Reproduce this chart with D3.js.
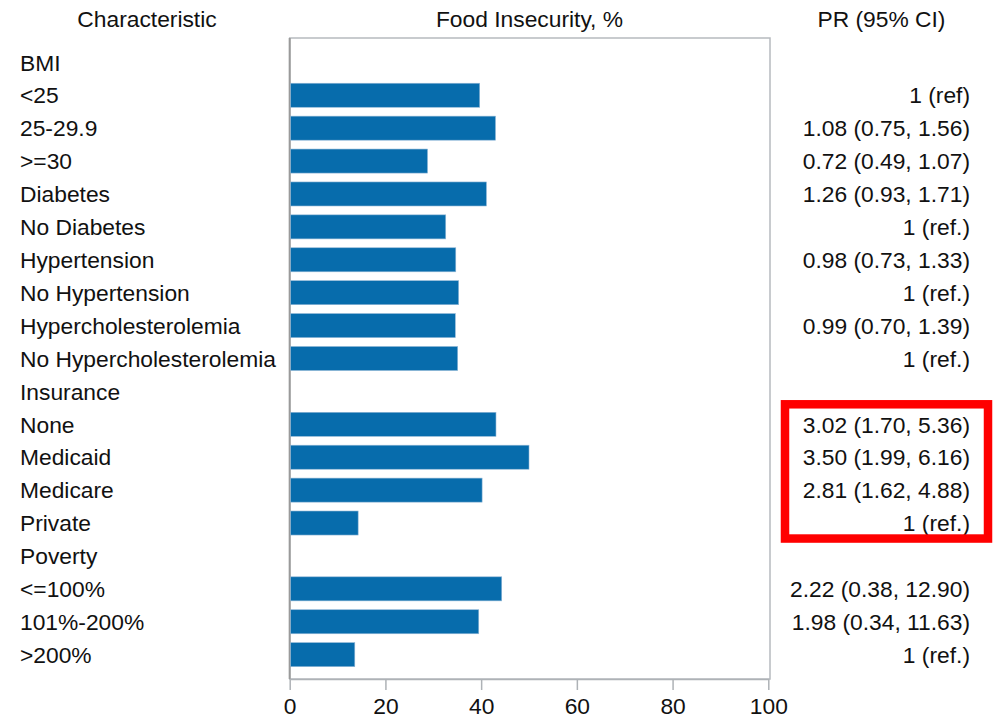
<!DOCTYPE html>
<html>
<head>
<meta charset="utf-8">
<script src="https://cdn.jsdelivr.net/npm/d3@7"></script>
<style>
  html, body { margin: 0; padding: 0; background: #fff; }
  svg text { font-family: "Liberation Sans", Arial, sans-serif; fill: #111; }
</style>
</head>
<body>
<svg id="chart" width="994" height="719"></svg>
<script>
// Row labels (group headers have no bar and no ratio)
const characteristics = [
  "BMI", "<25", "25-29.9", ">=30",
  "Diabetes", "No Diabetes",
  "Hypertension", "No Hypertension",
  "Hypercholesterolemia", "No Hypercholesterolemia",
  "Insurance", "None", "Medicaid", "Medicare", "Private",
  "Poverty", "<=100%", "101%-200%", ">200%"
];
// Food insecurity prevalence, %
const insecurity = [
  null, 39.7, 43.0, 28.8,
  41.1, 32.6,
  34.7, 35.3,
  34.6, 35.1,
  null, 43.1, 50.0, 40.2, 14.3,
  null, 44.3, 39.5, 13.6
];
// Prevalence ratio with 95% confidence interval
const prText = [
  "", "1 (ref)", "1.08 (0.75, 1.56)", "0.72 (0.49, 1.07)",
  "1.26 (0.93, 1.71)", "1 (ref.)",
  "0.98 (0.73, 1.33)", "1 (ref.)",
  "0.99 (0.70, 1.39)", "1 (ref.)",
  "", "3.02 (1.70, 5.36)", "3.50 (1.99, 6.16)", "2.81 (1.62, 4.88)", "1 (ref.)",
  "", "2.22 (0.38, 12.90)", "1.98 (0.34, 11.63)", "1 (ref.)"
];
const xTicks = [0, 20, 40, 60, 80, 100];
// Rows enclosed by the highlight box (insurance types)
const highlightRows = ["None", "Private"];

const svg = d3.select("#chart");
const fontSize = 22.8;

const plot = { left: 289.7, right: 768.3, top: 38, bottom: 679 };

const x = d3.scaleLinear().domain([0, 100]).range([plot.left, plot.right]);
const y = d3.scaleBand()
  .domain(d3.range(characteristics.length))
  .range([plot.top, plot.bottom])
  .paddingInner(0.27)
  .paddingOuter(0.375);

// Column headers
const headers = [
  { text: "Characteristic", x: 147 },
  { text: "Food Insecurity, %", x: (plot.left + plot.right) / 2 + 0.5 },
  { text: "PR (95% CI)", x: 881.5 }
];
svg.selectAll("text.header").data(headers).join("text")
  .attr("class", "header")
  .attr("x", d => d.x).attr("y", 27)
  .attr("text-anchor", "middle")
  .style("font-size", fontSize + "px")
  .text(d => d.text);

// Plot frame
svg.append("rect")
  .attr("x", plot.left).attr("y", plot.top)
  .attr("width", plot.right + 1.7 - plot.left).attr("height", plot.bottom - plot.top)
  .attr("fill", "none").attr("stroke", "#b6babf").attr("stroke-width", 1.5);
svg.append("line")
  .attr("x1", plot.left).attr("x2", plot.left)
  .attr("y1", plot.top).attr("y2", plot.bottom)
  .attr("stroke", "#9a9a9a").attr("stroke-width", 2);

// Bars
const rows = characteristics.map((c, i) => ({ i, label: c, value: insecurity[i], pr: prText[i] }));
svg.append("g").selectAll("rect").data(rows.filter(d => d.value != null)).join("rect")
  .attr("x", x(0) + 1)
  .attr("y", d => y(d.i))
  .attr("width", d => x(d.value) - x(0) - 1)
  .attr("height", y.bandwidth())
  .attr("fill", "#076cac")
  .attr("stroke", "#8fb6d6").attr("stroke-width", 0.6);

// Row labels
svg.append("g").selectAll("text").data(rows).join("text")
  .attr("x", 20)
  .attr("y", d => y(d.i) + y.bandwidth() / 2)
  .attr("dy", "0.36em")
  .style("font-size", fontSize + "px")
  .text(d => d.label);

// Ratio column
svg.append("g").selectAll("text").data(rows.filter(d => d.pr)).join("text")
  .attr("x", 970)
  .attr("y", d => y(d.i) + y.bandwidth() / 2)
  .attr("dy", "0.36em")
  .attr("text-anchor", "end")
  .style("font-size", fontSize + "px")
  .text(d => d.pr);

// Highlight box around the insurance ratios
const iTop = characteristics.indexOf(highlightRows[0]);
const iBot = characteristics.indexOf(highlightRows[1]);
const boxTop = y(iTop) - 8;
const boxBot = y(iBot) + y.bandwidth() + 3.5;
svg.append("rect")
  .attr("x", 785).attr("y", boxTop)
  .attr("width", 988 - 785).attr("height", boxBot - boxTop)
  .attr("fill", "none").attr("stroke", "#ff0000").attr("stroke-width", 8.5);

// X axis
const xAxis = d3.axisBottom(x).tickValues(xTicks).tickSizeInner(11).tickSizeOuter(0).tickPadding(8);
const gx = svg.append("g").attr("transform", `translate(0,${plot.bottom})`).call(xAxis);
gx.select(".domain").attr("stroke", "#aeb2b6").attr("stroke-width", 1.5);
gx.selectAll(".tick line").attr("stroke", "#aeb2b6").attr("stroke-width", 1.5);
gx.selectAll(".tick text")
  .style("font-size", fontSize + "px")
  .style("font-family", "'Liberation Sans', Arial, sans-serif")
  .attr("fill", "#111");
</script>
</body>
</html>
